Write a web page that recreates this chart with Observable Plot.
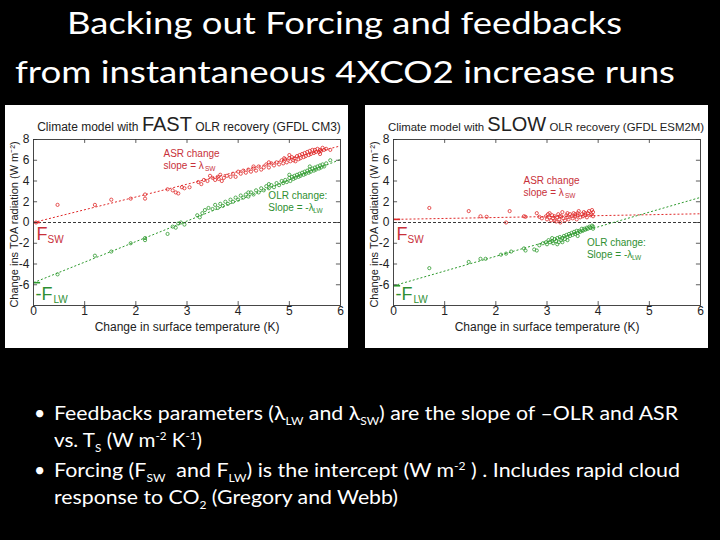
<!DOCTYPE html>
<html><head><meta charset="utf-8">
<script src="https://cdn.jsdelivr.net/npm/d3@7"></script>
<script src="https://cdn.jsdelivr.net/npm/@observablehq/plot@0.6"></script>
<style>
html,body{margin:0;padding:0;background:#000;}
#slide{position:relative;width:720px;height:540px;background:#000;overflow:hidden;font-family:Lato,"Open Sans",sans-serif;color:#fff;}
.fit{position:absolute;white-space:nowrap;transform-origin:0 0;}
.title{font-size:30px;line-height:1;}
.panel{position:absolute;top:105px;width:343px;height:243px;background:#fff;overflow:hidden;}
.ptitle{position:absolute;top:9px;white-space:nowrap;font-family:"Liberation Sans",Arial,sans-serif;color:#222;transform:translateX(-50%);line-height:1;}
.ptitle .s{font-size:12px;}
.ptitle .b{font-size:20px;}
#p2 .ptitle .s{font-size:11.4px;}
.line{font-size:19.5px;line-height:20px;}
.line sub,.line sup{font-size:11px;line-height:0;}
.bul{position:absolute;left:34px;font-size:19.5px;line-height:20px;}
</style></head>
<body><div id="slide">
<div class="fit title" data-x="67" data-w="555" style="top:7px">Backing out Forcing and feedbacks</div>
<div class="fit title" data-x="15" data-w="660" style="top:56px">from instantaneous 4XCO2 increase runs</div>
<div class="panel" id="p1" style="left:5px"><div class="ptitle" style="left:184px"><span class="s">Climate model with </span><span class="b">FAST</span><span class="s"> OLR recovery (GFDL CM3)</span></div></div>
<div class="panel" id="p2" style="left:365px"><div class="ptitle" style="left:181px"><span class="s">Climate model with </span><span class="b">SLOW</span><span class="s"> OLR recovery (GFDL ESM2M)</span></div></div>
<div class="bul" style="top:403px">•</div>
<div class="fit line" data-x="54" data-w="624" style="top:403px">Feedbacks parameters (λ<sub>LW</sub> and λ<sub>SW</sub>) are the slope of –OLR and ASR</div>
<div class="fit line" data-x="54" data-w="148" style="top:430px">vs. T<sub>S</sub> (W m<sup>-2</sup> K<sup>-1</sup>)</div>
<div class="bul" style="top:460px">•</div>
<div class="fit line" data-x="54" data-w="626" style="top:460px">Forcing (F<sub>SW</sub> &nbsp;and F<sub>LW</sub>) is the intercept (W m<sup>-2</sup> ) . Includes rapid cloud</div>
<div class="fit line" data-x="54" data-w="344" style="top:487px">response to CO<sub>2</sub> (Gregory and Webb)</div>
</div>
<script>
// ---- data ----
const xTicks = [0, 1, 2, 3, 4, 5, 6];
const yTicks = [-6, -4, -2, 0, 2, 4, 6, 8];

// FAST model (GFDL CM3): [dTs, dASR]
const fastASR = [
[0.05,0.0],[0.47,1.7],[1.2,1.7],[1.52,2.2],[1.9,2.3],[2.18,2.7],[2.18,2.3],[2.62,3.2],[2.72,3.1],[2.78,2.9],[2.83,2.8],[2.9,3.4],[2.95,3.3],[3.05,3.4],
[3.22,3.9],[3.28,3.7],[3.33,4.1],[3.4,4.0],[3.5,4.3],[3.55,4.1],[3.6,4.4],[3.62,4.2],[3.68,4.0],[3.72,4.3],[3.78,4.5],[3.85,4.4],[3.9,4.7],[3.95,4.4],
[4.0,4.9],[4.05,4.7],[4.1,5.0],[4.15,4.8],[4.2,5.1],[4.25,4.9],[4.3,5.2],[4.35,5.0],[4.4,5.4],[4.45,5.1],[4.5,5.3],[4.55,5.6],[4.6,5.3],[4.65,5.7],
[4.7,5.5],[4.75,5.8],[4.8,5.6],[4.85,6.0],[4.88,5.7],[4.92,6.1],[4.95,5.8],[5.0,6.2],[5.02,5.9],[5.05,6.3],[5.08,6.0],[5.1,6.2],[5.12,5.9],[5.15,6.4],
[5.18,6.1],[5.2,6.5],[5.22,6.2],[5.25,6.6],[5.28,6.3],[5.3,6.7],[5.32,6.4],[5.35,6.8],[5.38,6.5],[5.4,6.9],[5.42,6.6],[5.45,7.0],[5.48,6.7],[5.5,7.0],
[5.52,6.8],[5.55,7.1],[5.58,6.8],[5.6,7.0],[5.62,6.9],[5.65,7.2],[5.68,7.0],[5.72,7.1],[5.6,6.6],[5.0,6.5],[4.9,6.2],[4.6,5.8],[4.3,5.4],[5.8,7.0],[3.45,4.5],[3.65,4.6]
];
// FAST model: [dTs, -dOLR]
const fastOLR = [
[0.47,-5.0],[1.2,-3.2],[1.52,-2.8],[1.9,-2.0],[2.18,-1.5],[2.18,-1.7],[2.62,-1.1],[2.72,-0.4],[2.78,-0.5],[2.83,-0.1],[2.88,0.0],[2.95,-0.2],
[3.2,0.7],[3.25,0.5],[3.3,0.9],[3.35,1.2],[3.42,1.4],[3.5,1.3],[3.55,1.7],[3.6,1.4],[3.65,1.8],[3.7,1.6],[3.75,2.0],[3.8,1.8],[3.85,2.2],[3.9,2.0],
[3.95,2.4],[4.0,2.2],[4.05,2.6],[4.1,2.4],[4.15,2.7],[4.2,2.5],[4.25,2.9],[4.3,2.7],[4.35,3.1],[4.4,2.9],[4.45,3.3],[4.5,3.1],[4.55,3.5],[4.6,3.3],
[4.65,3.6],[4.7,3.4],[4.75,3.8],[4.8,3.6],[4.85,4.0],[4.88,3.8],[4.92,4.1],[4.95,3.9],[5.0,4.3],[5.02,4.0],[5.05,4.4],[5.08,4.2],[5.1,4.5],[5.12,4.3],
[5.15,4.6],[5.18,4.4],[5.2,4.7],[5.22,4.5],[5.25,4.8],[5.28,4.6],[5.3,4.9],[5.32,4.7],[5.35,5.0],[5.38,4.8],[5.4,5.1],[5.42,4.9],[5.45,5.2],[5.48,5.0],
[5.5,5.3],[5.52,5.1],[5.55,5.4],[5.58,5.2],[5.6,5.5],[5.62,5.3],[5.65,5.6],[5.68,5.4],[5.72,5.7],[5.8,6.0],[5.0,4.6],[4.6,3.7],[4.2,2.9],[5.4,5.4]
];
// SLOW model (GFDL ESM2M)
const slowASR = [
[0.7,1.4],[1.47,1.1],[1.7,0.6],[1.82,0.55],[2.2,0.0],[2.27,1.1],[2.55,0.6],[2.58,0.55],[2.8,0.9],[2.85,0.55],[2.9,0.4],
[2.98,0.6],[3.0,0.3],[3.02,0.8],[3.05,0.5],[3.08,0.2],[3.1,0.7],[3.12,0.4],[3.15,0.6],[3.18,0.1],[3.2,0.5],[3.22,0.8],[3.24,0.3],[3.26,0.0],
[3.28,0.6],[3.3,1.0],[3.32,0.4],[3.35,0.2],[3.38,0.7],[3.4,0.5],[3.42,0.3],[3.45,0.8],[3.48,0.6],[3.5,0.4],[3.52,0.9],[3.55,0.6],[3.58,0.3],
[3.6,0.7],[3.62,1.1],[3.65,0.5],[3.68,0.8],[3.7,0.6],[3.72,1.0],[3.75,0.7],[3.78,0.5],[3.8,0.9],[3.82,1.1],[3.85,0.7],[3.87,0.8],[3.9,1.0],
[3.9,0.6],[3.88,1.2],[3.6,0.9],[3.4,0.9],[3.15,0.2],[3.05,0.9],[3.25,0.6],[3.55,0.8],[3.75,0.9]
];
const slowOLR = [
[0.7,-4.4],[1.47,-3.8],[1.7,-3.5],[1.8,-3.5],[2.1,-3.1],[2.2,-3.0],[2.3,-2.8],[2.55,-2.5],[2.58,-2.7],[2.75,-2.6],[2.8,-2.7],[2.85,-2.2],[2.92,-2.0],
[2.98,-1.9],[3.0,-2.1],[3.03,-1.7],[3.06,-1.9],[3.1,-1.8],[3.12,-2.0],[3.15,-1.6],[3.18,-1.8],[3.2,-1.5],[3.23,-1.9],[3.25,-1.4],[3.28,-1.7],
[3.3,-1.5],[3.33,-1.3],[3.35,-1.6],[3.38,-1.2],[3.4,-1.4],[3.43,-1.1],[3.45,-1.3],[3.48,-1.0],[3.5,-1.2],[3.53,-0.9],[3.55,-1.1],[3.58,-0.8],
[3.6,-1.0],[3.63,-0.8],[3.65,-0.9],[3.68,-0.6],[3.7,-0.8],[3.73,-0.6],[3.75,-0.7],[3.78,-0.5],[3.8,-0.6],[3.83,-0.4],[3.85,-0.5],[3.88,-0.3],
[3.9,-0.4],[3.9,-0.6],[3.2,-2.1],[3.4,-1.7],[3.6,-1.3],[3.1,-1.5],[3.3,-1.9]
];
// regression fits: intercept (forcing) and slope (feedback)
const fastFits = [{series:"ASR", F:0.0, lambda:1.23}, {series:"OLR", F:-5.8, lambda:1.98}];
const slowFits = [{series:"ASR", F:0.3, lambda:0.09}, {series:"OLR", F:-6.1, lambda:1.42}];

// ---- styles ----
const RED = "#e02a2a", GREEN = "#2e9a2e", TRED = "#c8313a", TGREEN = "#2f8f32";
const color = s => s === "ASR" ? RED : GREEN;
const fmt = d => String(d);

function panel(asr, olr, fits, ann) {
  const lines = fits.map(f => ({...f, x1: 0, y1: f.F, x2: 6, y2: f.F + 6 * f.lambda}));
  return Plot.plot({
    width: 343, height: 243,
    marginLeft: 28, marginRight: 8, marginTop: 34, marginBottom: 43,
    x: {domain: [0, 6]}, y: {domain: [-8, 8]},
    style: {background: "#fff", fontFamily: "Liberation Sans, Arial, sans-serif", fontSize: "12px", color: "#222", overflow: "visible"},
    marks: [
      Plot.ruleY([0], {stroke: "#222", strokeDasharray: "3,2", strokeWidth: 0.9}),
      Plot.link(lines, {x1: "x1", y1: "y1", x2: "x2", y2: "y2", stroke: d => color(d.series), strokeDasharray: "2,2", strokeWidth: 1}),
      Plot.link(lines, {x1: "x1", y1: "y1", x2: d => 0.13, y2: "y1", stroke: d => color(d.series), strokeWidth: 1.6}),
      Plot.dot(asr, {x: d => d[0], y: d => d[1], r: 1.6, stroke: RED, strokeWidth: 0.8, fill: "none"}),
      Plot.dot(olr, {x: d => d[0], y: d => d[1], r: 1.6, stroke: GREEN, strokeWidth: 0.8, fill: "none"}),
      Plot.frame({stroke: "#333", strokeWidth: 0.9}),
      Plot.ruleX(xTicks.slice(1, -1), {y1: -8, y2: -7.62, stroke: "#333", strokeWidth: 0.8}),
      Plot.ruleX(xTicks.slice(1, -1), {y1: 8, y2: 7.62, stroke: "#333", strokeWidth: 0.8}),
      Plot.ruleY(yTicks, {x1: 0, x2: 0.08, stroke: "#333", strokeWidth: 0.8}),
      Plot.ruleY(yTicks, {x1: 6, x2: 5.92, stroke: "#333", strokeWidth: 0.8}),
      Plot.axisX({ticks: xTicks, tickSize: 0, tickPadding: 1, tickFormat: fmt, label: null}),
      Plot.axisY({ticks: yTicks, tickSize: 0, tickPadding: 4, tickFormat: fmt, label: null}),
      Plot.text(["Change in surface temperature (K)"], {frameAnchor: "bottom", dy: 25, fontSize: 12, fill: "#222"}),
      Plot.text(["Change ins TOA radiation (W m⁻²)"], {frameAnchor: "left", rotate: -90, textAnchor: "middle", dx: -19, dy: 2, fontSize: 11, fill: "#222"}),
      // annotations
      Plot.text(["ASR change"], {x: ann.asr[0], y: ann.asr[1], textAnchor: "start", fontSize: 10, fill: TRED}),
      Plot.text(["slope = λ"], {x: ann.asr[0], y: ann.asr[1], dy: 12, textAnchor: "start", fontSize: 10, fill: TRED}),
      Plot.text(["SW"], {x: ann.asr[0], y: ann.asr[1], dx: 41.5, dy: 15, textAnchor: "start", fontSize: 6.5, fill: TRED}),
      Plot.text(["OLR change:"], {x: ann.olr[0], y: ann.olr[1], textAnchor: "start", fontSize: 10, fill: TGREEN}),
      Plot.text(["Slope = -λ"], {x: ann.olr[0], y: ann.olr[1], dy: 12, textAnchor: "start", fontSize: 10, fill: TGREEN}),
      Plot.text(["LW"], {x: ann.olr[0], y: ann.olr[1], dx: 45, dy: 15, textAnchor: "start", fontSize: 6.5, fill: TGREEN}),
      Plot.text(["F"], {x: 0, y: -1.7, dx: 3, textAnchor: "start", lineAnchor: "bottom", fontSize: 18, fill: TRED}),
      Plot.text(["SW"], {x: 0, y: -1.7, dx: 14, dy: 3, textAnchor: "start", lineAnchor: "bottom", fontSize: 10, fill: TRED}),
      Plot.text(["-F"], {x: 0, y: -7.5, dx: 2, textAnchor: "start", lineAnchor: "bottom", fontSize: 18, fill: TGREEN}),
      Plot.text(["LW"], {x: 0, y: -7.5, dx: 20, dy: 3, textAnchor: "start", lineAnchor: "bottom", fontSize: 10, fill: TGREEN})
    ]
  });
}

document.getElementById("p1").prepend(panel(fastASR, fastOLR, fastFits, {asr: [2.54, 6.6], olr: [4.59, 2.55]}));
document.getElementById("p2").prepend(panel(slowASR, slowOLR, slowFits, {asr: [2.54, 4.0], olr: [3.78, -2.0]}));

// stretch slide texts horizontally to the widths they have in the reference
document.querySelectorAll(".fit").forEach(el => {
  el.style.left = el.dataset.x + "px";
  const w = el.getBoundingClientRect().width;
  el.style.transform = `scaleX(${(+el.dataset.w) / w})`;
});
</script>
</body></html>
